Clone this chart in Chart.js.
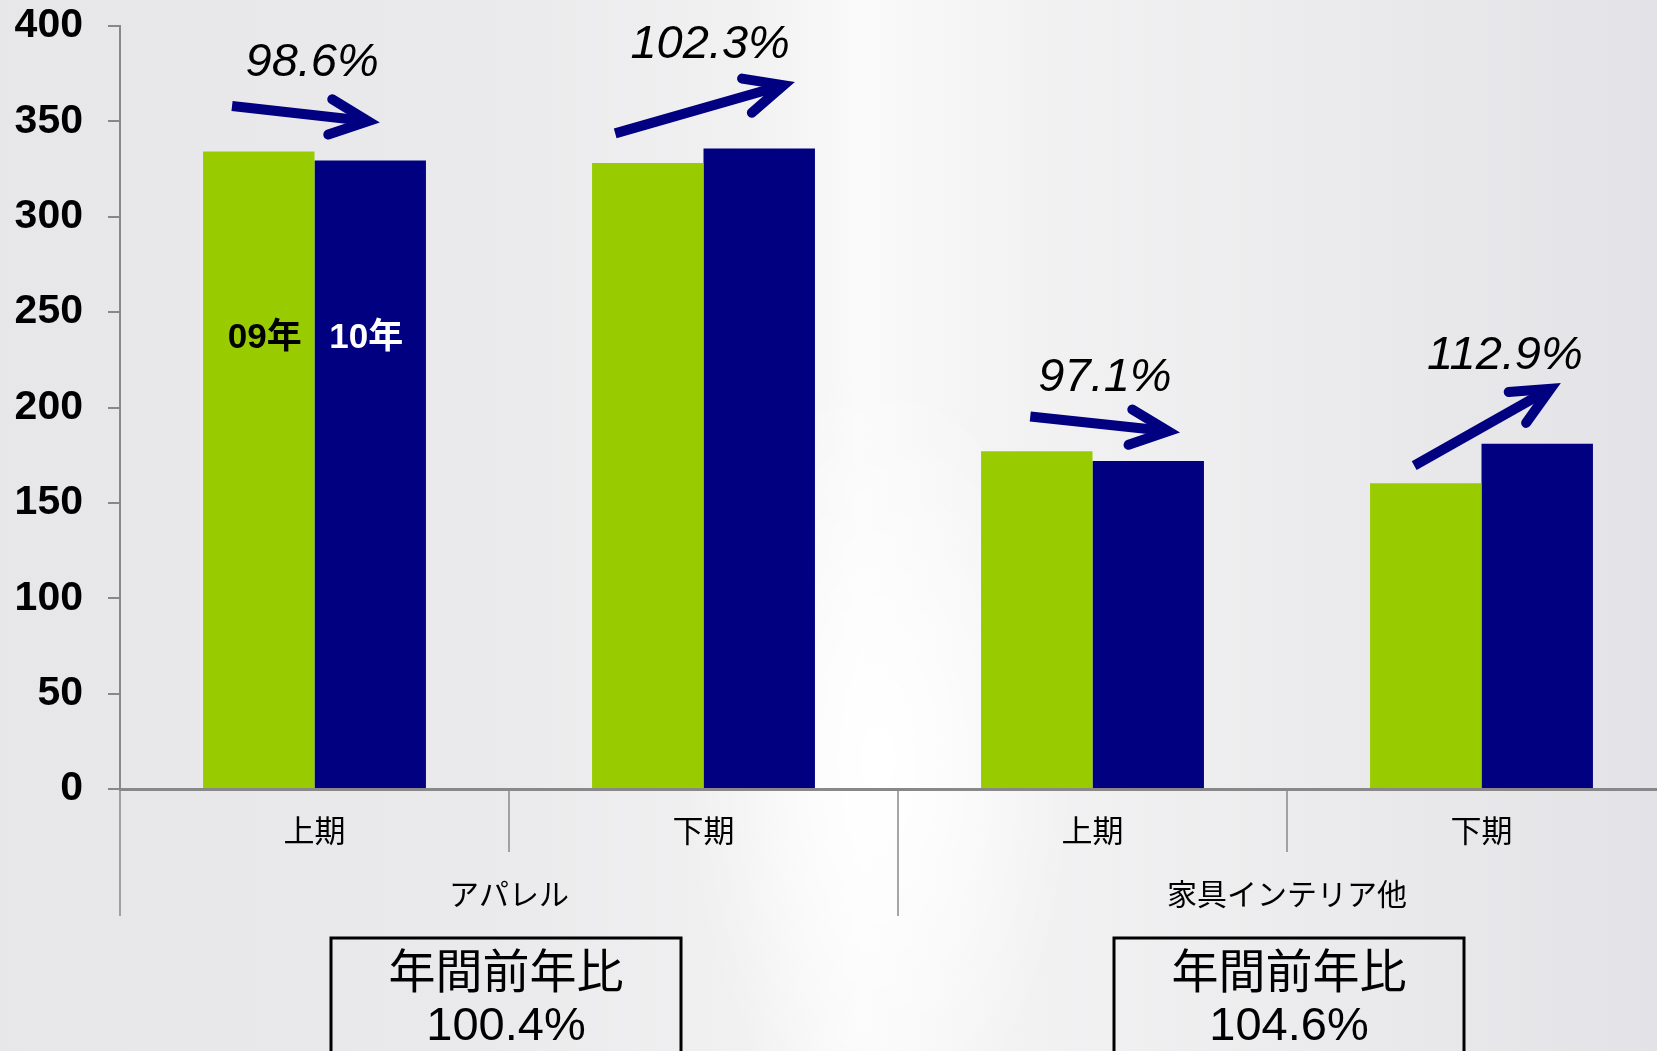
<!DOCTYPE html>
<html>
<head>
<meta charset="utf-8">
<script src="https://cdn.jsdelivr.net/npm/chart.js@4.4.0/dist/chart.umd.min.js"></script>
<style>
  html, body {
    margin: 0;
    padding: 0;
    width: 1657px;
    height: 1051px;
    overflow: hidden;
  }
  body {
    background:
      radial-gradient(ellipse 260px 520px at 880px 760px, rgba(255,255,255,1), rgba(255,255,255,0) 75%),
      linear-gradient(90deg, #e7e7e9 0%, #eaeaec 30%, #f1f1f2 45%, #fafafa 52%, #f2f2f3 62%, #ebebed 80%, #e3e3e7 100%);
  }
  #wrap {
    position: absolute;
    left: 0;
    top: 0;
  }
</style>
</head>
<body>
<div id="wrap">
  <canvas id="myChart" width="1680" height="1051"></canvas>
</div>
<script>
// sales by half year, two segments
const categories = ['上期', '下期', '上期', '下期'];
const groups = ['アパレル', '家具インテリア他'];
const sales09 = [334.2, 328.2, 177.0, 160.3];
const sales10 = [329.5, 335.8, 171.9, 181.0];
const seriesNames = ['09年', '10年'];
const yoyLabels = ['98.6%', '102.3%', '97.1%', '112.9%'];
const annualLabels = ['100.4%', '104.6%'];
const yMax = 400;
const yStep = 50;

// arrows + percent labels, in (category index, value) units
const arrows = [
  { from: [-0.212, 358.1], to: [0.168, 349.4] },
  { from: [0.773, 343.7], to: [1.235, 370.7] },
  { from: [1.840, 195.3], to: [2.225, 186.9] },
  { from: [2.827, 169.5], to: [3.204, 212.9] }
];
const yoyPos = [[-0.006, 380.9], [1.017, 390.1], [2.032, 215.6], [3.060, 227.2]];
const boxShift = [-3, 2];

const GREEN = '#99cc00';
const NAVY = '#000080';
const AXIS = '#888888';
const JP = '"Noto Sans CJK JP", "Liberation Sans", sans-serif';

function drawArrow(ctx, x1, y1, xEnd, yEnd) {
  const ang = Math.atan2(yEnd - y1, xEnd - x1);
  const len = 42, spread = 25 * Math.PI / 180;
  // miter point sticks out past the path end, so pull it back
  const back = 5 / Math.sin(spread);
  const x2 = xEnd - back * Math.cos(ang);
  const y2 = yEnd - back * Math.sin(ang);
  ctx.save();
  ctx.strokeStyle = NAVY;
  ctx.lineWidth = 10;
  ctx.lineCap = 'butt';
  ctx.beginPath();
  ctx.moveTo(x1, y1);
  ctx.lineTo(x2 - 4 * Math.cos(ang), y2 - 4 * Math.sin(ang));
  ctx.stroke();
  ctx.lineCap = 'round';
  ctx.lineJoin = 'miter';
  ctx.beginPath();
  ctx.moveTo(x2 - len * Math.cos(ang - spread), y2 - len * Math.sin(ang - spread));
  ctx.lineTo(x2, y2);
  ctx.lineTo(x2 - len * Math.cos(ang + spread), y2 - len * Math.sin(ang + spread));
  ctx.stroke();
  ctx.restore();
}

const extras = {
  id: 'extras',
  afterDraw(chart) {
    const { ctx, chartArea, scales: { x, y } } = chart;
    const x0 = x.getPixelForValue(0);
    const step = x.getPixelForValue(1) - x0;
    const px = f => x0 + f * step;
    const axisY = chartArea.bottom;

    // category dividers under the axis
    ctx.save();
    ctx.strokeStyle = AXIS;
    ctx.lineWidth = 1.5;
    for (let i = 0; i <= categories.length; i++) {
      const xx = px(i - 0.5);
      const long = i % 2 === 0;
      ctx.beginPath();
      ctx.moveTo(xx, axisY);
      ctx.lineTo(xx, long ? 916 : 852);
      ctx.stroke();
    }
    ctx.restore();

    // group names
    ctx.save();
    ctx.fillStyle = '#000';
    ctx.font = '30px ' + JP;
    ctx.textAlign = 'center';
    ctx.textBaseline = 'middle';
    groups.forEach((g, i) => {
      ctx.fillText(g, px(i * 2 + 0.5), 894);
    });
    ctx.restore();

    // series names inside the first bars
    const m0 = chart.getDatasetMeta(0).data[0];
    const m1 = chart.getDatasetMeta(1).data[0];
    ctx.save();
    ctx.font = 'bold 35px "Liberation Sans", ' + JP;
    ctx.textAlign = 'center';
    ctx.textBaseline = 'middle';
    ctx.fillStyle = '#000';
    ctx.fillText(seriesNames[0], m0.x + 6, y.getPixelForValue(236));
    ctx.fillStyle = '#fff';
    ctx.fillText(seriesNames[1], m1.x - 4, y.getPixelForValue(236));
    ctx.restore();

    // year-on-year arrows
    arrows.forEach(a => {
      drawArrow(ctx, px(a.from[0]), y.getPixelForValue(a.from[1]),
                     px(a.to[0]), y.getPixelForValue(a.to[1]));
    });
    ctx.save();
    ctx.fillStyle = '#000';
    ctx.font = 'italic 47px "Liberation Sans", sans-serif';
    ctx.textAlign = 'center';
    ctx.textBaseline = 'middle';
    yoyLabels.forEach((t, i) => {
      ctx.fillText(t, px(yoyPos[i][0]), y.getPixelForValue(yoyPos[i][1]));
    });
    ctx.restore();

    // annual boxes
    ctx.save();
    annualLabels.forEach((t, i) => {
      const cx = px(i * 2 + 0.5) + boxShift[i];
      ctx.strokeStyle = '#000';
      ctx.lineWidth = 3;
      ctx.strokeRect(cx - 175, 938, 350, 140);
      ctx.fillStyle = '#000';
      ctx.textAlign = 'center';
      ctx.textBaseline = 'middle';
      ctx.font = '47px ' + JP;
      ctx.fillText('年間前年比', cx, 970);
      ctx.font = '47px "Liberation Sans", sans-serif';
      ctx.fillText(t, cx, 1027);
    });
    ctx.restore();
  }
};

const ctx = document.getElementById('myChart');
new Chart(ctx, {
  type: 'bar',
  data: {
    labels: categories,
    datasets: [
      {
        label: seriesNames[0],
        data: sales09,
        backgroundColor: GREEN,
        barPercentage: 1.0,
        categoryPercentage: 0.573
      },
      {
        label: seriesNames[1],
        data: sales10,
        backgroundColor: NAVY,
        barPercentage: 1.0,
        categoryPercentage: 0.573
      }
    ]
  },
  options: {
    responsive: false,
    animation: false,
    devicePixelRatio: 1,
    layout: { padding: { top: 26, right: 4, left: 0, bottom: 0 } },
    plugins: {
      legend: { display: false },
      tooltip: { enabled: false }
    },
    scales: {
      x: {
        afterFit: s => { s.height = 262; },
        grid: { display: false, drawTicks: false },
        border: { display: true, color: AXIS, width: 3 },
        ticks: {
          color: '#000',
          font: { family: JP, size: 31 },
          padding: 23,
          maxRotation: 0
        }
      },
      y: {
        min: 0,
        max: yMax,
        afterFit: s => {
          s.width = 120;
          s.paddingTop = 0;
          s.paddingBottom = 0;
        },
        grid: {
          drawOnChartArea: false,
          color: AXIS,
          lineWidth: 2,
          tickLength: 12
        },
        border: { display: true, color: AXIS, width: 2 },
        ticks: {
          stepSize: yStep,
          color: '#000',
          padding: 25,
          font: { family: '"Liberation Sans", Arial, sans-serif', size: 41, weight: 'bold' }
        }
      }
    }
  },
  plugins: [extras]
});
</script>
</body>
</html>
